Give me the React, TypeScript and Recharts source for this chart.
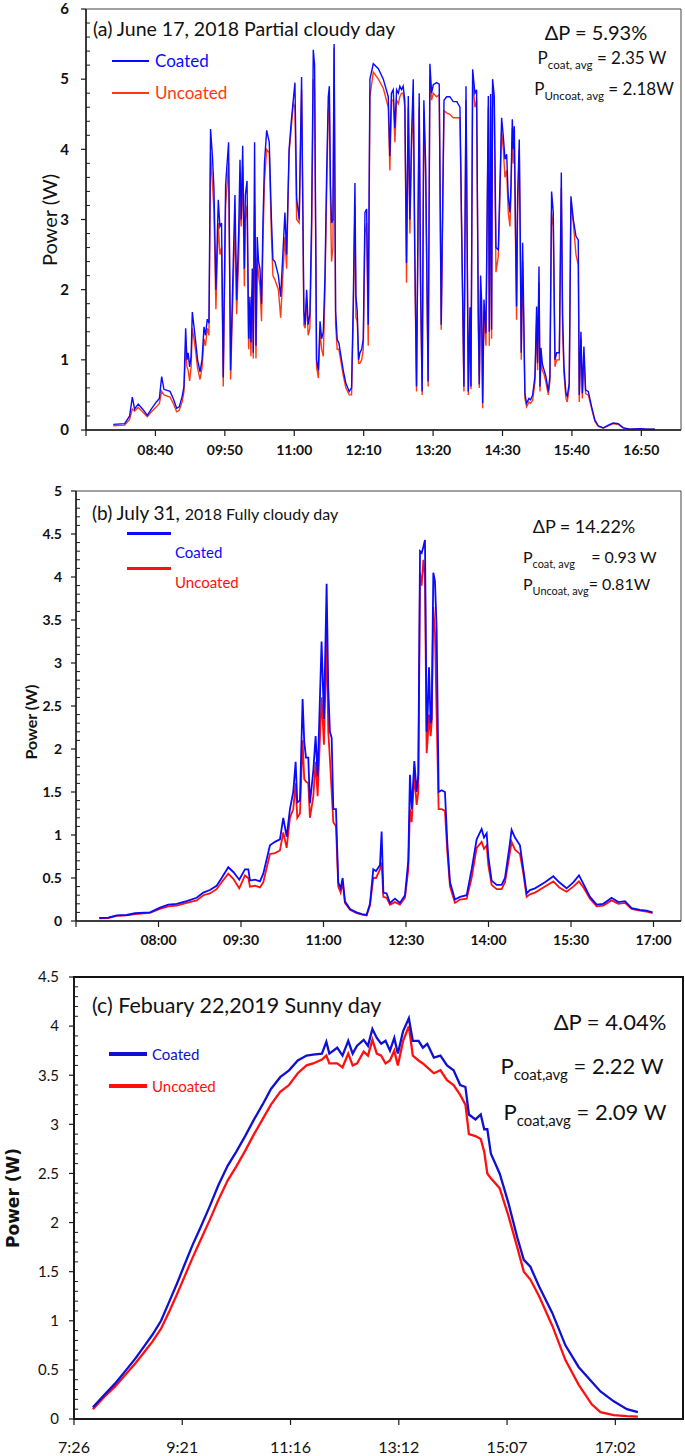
import React from 'react';
import { LineChart, Line, XAxis, YAxis, ReferenceArea } from 'recharts';

const SANS = 'Lato, "Open Sans", "DejaVu Sans", sans-serif';

// ---------- Panel (a) June 17, 2018 ----------
const aTime = [477.5,489,494,496.7,499,502.7,507,511.8,516,521,524,526.3,528.6,534.7,538,541.4,544,547,548.8,550.5,551.8,553,554.5,556,557.2,559.9,562.5,565,567,569,570.5,572.3,574,575.6,577.5,579,581,583.4,585,586.7,588.4,590.8,593.8,595.8,598.5,600.2,601.9,604,605.3,606.5,608,609.7,610.7,612.4,614,615.3,616.3,617.7,618.7,620,621.4,622.7,624,625.4,627,628.5,630,632.2,634.8,637,638.5,640.5,644,646.3,648.5,650.6,652.3,654.8,657,659,660.7,662.4,665,667.4,669.7,671,672.5,674,675.8,677.5,679.2,680.5,682.5,684.3,686,687.6,689.3,691,692.6,694.3,695.4,696.5,697.6,699,700.2,701.7,703.3,705,709.4,712,715.4,717.8,719.5,721.2,722.2,723.5,724.9,726.2,728,729.6,731.3,733,734.6,736.3,739.7,744.8,749.8,754.8,756.4,758,759.8,761.5,763.2,765,766.5,768.2,769.8,771.5,773.2,775,776.6,778.3,780,781.6,783.3,786,787.4,789,790.7,792.5,795,796.8,798.5,800.2,803.5,806.2,808.2,811,813.7,816.9,820.3,824,827.1,831.1,833.2,835.5,837.2,838.2,839.9,842.2,843.9,845.6,846.6,847.9,848.9,850,851.3,853.3,855.7,856.7,858,859,860,861.7,863.4,865.8,869.1,870.8,872.5,874.2,875.8,877.5,878.5,879.9,880.9,881.9,883.2,884.2,885.2,886.9,887.9,888.9,890.3,892.6,894.3,896.7,898.4,900.4,902.7,904.4,905.4,906.8,907.8,908.8,910.1,911.8,913.8,916.2,917.8,919.5,921.2,922.9,924.6,927.3,929.3,930.6,932,934,935.3,937.3,939,941.4,944.1,946.4,947.4,949.1,950.5,952.1,953.8,956.5,959.9,963.2,966.6,971.6,976.7,981.7,986.7,991.8,998.5,1008.6,1015.3,1023.7];
const aCoated = [0.08,0.09,0.2,0.47,0.3,0.37,0.3,0.21,0.3,0.4,0.45,0.76,0.58,0.55,0.45,0.31,0.33,0.48,0.62,1.45,1.0,1.1,0.9,1.05,1.68,1.35,1.0,0.83,1.0,1.47,1.35,1.58,1.52,4.29,3.9,3.45,2.0,3.28,2.9,2.95,0.75,3.5,4.1,0.85,2.4,3.35,1.85,2.85,3.85,3.0,4.05,2.3,3.35,3.55,1.3,1.9,1.25,2.3,1.1,4.1,1.2,2.75,2.4,2.3,1.8,3.0,3.82,4.27,4.1,3.0,2.43,2.4,2.2,1.9,2.5,3.1,2.5,4.0,4.4,4.7,4.95,3.3,3.0,5.03,1.7,1.5,2.0,1.5,1.65,3.0,5.42,5.2,1.0,0.85,1.55,1.3,1.4,2.2,3.6,4.75,4.9,3.5,2.95,3.0,5.5,1.7,1.29,1.24,0.85,0.67,0.55,0.6,1.8,3.52,1.9,1.7,1.0,1.1,1.15,1.3,3.1,3.15,1.5,5.0,5.22,5.15,5.0,4.75,3.9,4.8,4.85,4.3,4.85,4.8,4.9,4.85,4.9,4.7,2.38,4.76,3.0,4.2,5.0,2.5,0.62,4.8,2.1,0.55,4.7,3.8,0.69,5.22,4.8,4.92,4.95,4.93,1.5,4.7,4.75,4.75,4.68,4.68,4.6,0.62,4.9,0.55,1.75,0.62,5.14,4.8,4.85,1.65,0.65,2.2,1.85,0.38,1.86,1.38,4.76,1.4,4.79,1.43,5.0,4.76,2.6,2.57,4.45,4.19,3.86,3.93,3.33,3.1,3.48,4.43,4.0,4.33,2.8,1.76,3.3,4.14,2.8,1.1,2.67,0.52,0.38,0.45,0.43,0.5,0.76,1.76,0.95,2.33,0.62,1.17,0.95,0.86,0.76,0.55,0.76,3.4,3.1,1.0,1.1,1.1,3.67,1.62,0.9,0.52,0.48,0.67,3.33,3.0,2.76,2.71,0.5,1.4,0.52,1.19,0.57,0.55,0.33,0.14,0.06,0.03,0.07,0.1,0.09,0.03,0.01,0.02,0.01,0.01];
const aUncoated = [0.06,0.07,0.15,0.3,0.27,0.32,0.26,0.19,0.26,0.33,0.38,0.55,0.5,0.47,0.38,0.26,0.28,0.4,0.55,1.2,0.9,0.85,0.7,0.9,1.45,1.2,0.88,0.72,0.88,1.3,1.2,1.45,1.35,3.95,3.5,3.15,1.72,2.95,2.5,2.6,0.62,3.2,3.8,0.72,2.1,3.0,1.65,2.45,3.3,2.9,3.75,2.05,3.0,3.2,1.15,1.7,1.05,2.0,1.02,3.2,1.02,2.45,2.2,2.05,1.55,2.7,3.55,4.0,3.95,2.75,2.2,2.14,2.0,1.6,2.2,2.75,2.3,3.95,4.3,4.65,4.6,3.0,2.95,4.85,1.5,1.45,1.9,1.35,1.45,2.7,5.0,4.85,0.9,0.74,1.4,1.15,1.05,2.0,3.35,4.55,4.65,3.3,2.4,2.6,5.45,1.5,1.15,1.15,0.78,0.6,0.5,0.5,1.6,3.2,1.6,1.55,0.95,0.95,1.0,1.15,2.8,2.95,1.2,4.75,5.1,5.0,4.87,4.6,3.7,4.7,4.7,4.1,4.7,4.65,4.75,4.8,4.8,4.6,2.1,4.6,2.8,4.0,4.76,2.3,0.55,4.6,1.9,0.5,4.55,3.6,0.62,5.05,4.7,4.8,4.75,4.78,1.43,4.55,4.52,4.5,4.45,4.45,4.45,0.55,4.7,0.5,1.6,0.58,5.0,4.6,4.7,1.5,0.6,2.0,1.7,0.31,1.7,1.2,4.6,1.2,4.6,1.3,4.9,4.6,2.25,2.48,4.26,4.0,3.6,3.7,3.1,2.9,3.3,4.3,3.8,4.1,2.6,1.57,3.1,4.0,2.6,1.0,2.4,0.45,0.33,0.4,0.38,0.42,0.68,1.55,0.85,2.1,0.55,1.05,0.85,0.8,0.68,0.5,0.7,3.1,2.9,0.9,1.0,1.0,3.45,1.45,0.8,0.45,0.4,0.6,3.25,2.95,2.5,2.35,0.4,1.3,0.45,1.05,0.52,0.5,0.3,0.12,0.05,0.03,0.06,0.09,0.08,0.03,0.01,0.02,0.01,0.01];
const aXTicks = [450,520,590,660,730,800,870,940,1010];
const aXLabels = ['', '08:40', '09:50', '11:00', '12:10', '13:20', '14:30', '15:40', '16:50'];
const aYTicks = [0,1,2,3,4,5,6];
const aYMinor = [0.2,0.4,0.6,0.8,1.2,1.4,1.6,1.8,2.2,2.4,2.6,2.8,3.2,3.4,3.6,3.8,4.2,4.4,4.6,4.8,5.2,5.4,5.6,5.8];

// ---------- Panel (b) July 31, 2018 ----------
const bTime = [415.4,425.2,434.3,445.2,454.3,470.7,481.6,490.7,499.8,510.7,521.6,528.9,536.1,543.4,548.9,556.1,561.6,568.1,574.3,578,579.8,585.2,590.7,594.3,601.6,607,612.5,616.1,619.8,623.4,627,629.6,631.4,634.3,637.2,639,640.9,643.4,645.2,648.9,651.4,653.6,657.9,660.5,663.4,665.2,667,668.9,670.7,673.6,676.1,678.7,680.9,683.4,688.9,696.1,702,707,710.7,714.3,717.3,721.6,723.4,725.3,728.9,732.5,738,743.4,748.9,752.5,754.3,756.2,759.1,761.6,763.4,765.3,767.1,768.9,770.7,772.5,773.6,775.1,776.9,778,779.8,781.6,783.4,785.6,788.9,792.5,795.1,798,803.4,808.9,816.2,821.6,827.1,832.5,835.1,838,839.8,843.4,848.9,854.3,858,862.7,865.2,868.9,874.3,878,881.6,885.2,890.7,901.6,910.7,917.2,925.2,932.5,938.7,944.1,950.7,958,965.2,974.3,981.6,988.9,996.1,1005.2,1012.5,1019];
const bCoated = [0.035,0.04,0.066,0.07,0.09,0.1,0.155,0.19,0.2,0.23,0.27,0.33,0.36,0.41,0.5,0.625,0.57,0.48,0.6,0.6,0.47,0.48,0.46,0.55,0.88,0.92,0.95,1.2,0.98,1.3,1.5,1.85,1.38,1.4,2.58,2.08,1.9,1.9,1.37,1.75,2.15,1.68,3.25,2.35,3.92,2.7,2.2,2.13,1.3,1.3,0.45,0.38,0.5,0.23,0.14,0.1,0.08,0.07,0.2,0.6,0.58,0.65,1.04,0.33,0.32,0.21,0.26,0.21,0.3,0.7,1.7,1.3,1.86,1.5,1.7,4.3,4.28,4.35,4.43,2.2,2.4,2.95,2.3,2.35,4.05,3.95,3.4,1.5,1.52,1.5,0.9,0.45,0.25,0.28,0.3,0.6,0.95,1.07,0.97,1.02,0.75,0.47,0.42,0.42,0.5,0.85,1.06,0.97,0.88,0.6,0.32,0.36,0.38,0.45,0.52,0.45,0.38,0.45,0.53,0.42,0.28,0.19,0.2,0.27,0.22,0.23,0.15,0.13,0.12,0.1];
const bUncoated = [0.03,0.035,0.06,0.065,0.08,0.095,0.14,0.17,0.18,0.21,0.24,0.3,0.32,0.37,0.45,0.55,0.49,0.38,0.53,0.5,0.4,0.41,0.39,0.45,0.78,0.79,0.82,1.03,0.85,1.2,1.3,1.6,1.2,1.25,2.1,1.65,1.62,1.6,1.2,1.45,1.85,1.45,2.6,2.05,3.3,2.2,1.88,1.5,1.15,1.1,0.4,0.33,0.45,0.21,0.13,0.09,0.075,0.065,0.18,0.5,0.5,0.6,0.68,0.28,0.27,0.19,0.22,0.19,0.27,0.6,1.3,1.15,1.7,1.35,1.5,4.05,3.9,4.2,4.0,1.95,2.1,2.4,2.15,2.3,3.65,3.35,2.4,1.3,1.3,1.28,0.8,0.4,0.21,0.25,0.26,0.5,0.85,0.92,0.84,0.88,0.65,0.42,0.37,0.37,0.45,0.75,0.92,0.83,0.78,0.55,0.28,0.31,0.33,0.4,0.46,0.39,0.34,0.4,0.46,0.38,0.26,0.17,0.18,0.24,0.2,0.21,0.14,0.12,0.11,0.09];
const bXTicks = [390,480,570,660,750,840,930,1020];
const bXLabels = ['', '08:00', '09:30', '11:00', '12:30', '14:00', '15:30', '17:00'];
const bYTicks = [0,0.5,1,1.5,2,2.5,3,3.5,4,4.5,5];
const bYMinor = [0.1,0.2,0.3,0.4,0.6,0.7,0.8,0.9,1.1,1.2,1.3,1.4,1.6,1.7,1.8,1.9,2.1,2.2,2.3,2.4,2.6,2.7,2.8,2.9,3.1,3.2,3.3,3.4,3.6,3.7,3.8,3.9,4.1,4.2,4.3,4.4,4.6,4.7,4.8,4.9];

// ---------- Panel (c) February 22, 2019 ----------
const cTime = [466.5,479,490,502,512,521,530,539,548,556,564,572.5,581,591,600,610,619,628.5,638,647,656,665.8,675.2,684.5,693.9,700.9,710.2,714.9,718.1,726.5,732.1,738.2,742.9,747.6,754.6,759.2,763.9,768.6,773.3,777.9,782.6,787.2,791,796.6,802.7,806.9,813,817.6,822.3,829.3,836.3,843.3,850.3,857.3,862.9,866.6,873.6,879.2,882.9,886.2,890,899.3,908.6,918,925,932,941.3,955.3,969.3,983.3,997.3,1006.6,1020.7,1034.7,1046.4];
const cCoated = [0.12,0.25,0.36,0.5,0.62,0.74,0.86,1.0,1.2,1.38,1.57,1.77,1.95,2.17,2.38,2.58,2.72,2.88,3.05,3.2,3.36,3.48,3.55,3.65,3.7,3.71,3.72,3.84,3.72,3.78,3.7,3.85,3.72,3.8,3.86,3.8,3.97,3.88,3.82,3.85,3.75,3.88,3.72,3.95,4.08,3.85,3.85,3.78,3.82,3.68,3.7,3.6,3.55,3.4,3.38,3.1,3.05,3.1,2.95,2.95,2.7,2.5,2.2,1.85,1.62,1.55,1.35,1.08,0.75,0.53,0.38,0.28,0.18,0.1,0.07];
const cUncoated = [0.1,0.23,0.33,0.46,0.57,0.68,0.79,0.92,1.1,1.27,1.45,1.64,1.82,2.03,2.23,2.43,2.57,2.73,2.9,3.05,3.2,3.33,3.4,3.52,3.6,3.62,3.66,3.7,3.62,3.62,3.58,3.72,3.6,3.62,3.74,3.7,3.86,3.72,3.7,3.62,3.65,3.75,3.6,3.85,4.0,3.7,3.65,3.62,3.58,3.52,3.55,3.45,3.4,3.3,3.2,2.9,2.88,2.85,2.72,2.5,2.45,2.35,2.07,1.75,1.5,1.42,1.25,0.95,0.6,0.35,0.15,0.07,0.04,0.03,0.025];
const cXTicks = [446.4,561.6,676.8,792,907.2,1022.4];
const cXLabels = ['7:26', '9:21', '11:16', '13:12', '15:07', '17:02'];
const cYTicks = [0,0.5,1,1.5,2,2.5,3,3.5,4,4.5];
const cYMinor = [0.1,0.2,0.3,0.4,0.6,0.7,0.8,0.9,1.1,1.2,1.3,1.4,1.6,1.7,1.8,1.9,2.1,2.2,2.3,2.4,2.6,2.7,2.8,2.9,3.1,3.2,3.3,3.4,3.6,3.7,3.8,3.9,4.1,4.2,4.3,4.4];

type PanelProps = {
  top: number; height: number; mTop: number; mRight: number;
  yAxisWidth: number; xAxisHeight: number;
  time: number[]; coated: number[]; uncoated: number[];
  xDomain: number[]; xTicks: number[]; xLabels: string[]; xTickMargin: number;
  xFontSize: number; xFontWeight: number;
  yDomain: number[]; yTicks: number[]; yMinor: number[]; yTickMargin: number;
  yFontSize: number; yFontWeight: number;
  axisWidth: number; frameColor: string; frameWidth: number;
  blue: string; red: string; lineWidth: number;
};

function Panel(p: PanelProps) {
  const data = p.time.map((t, i) => ({ t, coated: p.coated[i], uncoated: p.uncoated[i] }));
  const axisColor = '#1a1a1a';
  return (
    <div style={{ position: 'absolute', left: 0, top: p.top }}>
      <LineChart width={685} height={p.height} data={data}
        margin={{ top: p.mTop, right: p.mRight, bottom: 0, left: 0 }}>
        <ReferenceArea x1={p.xDomain[0]} x2={p.xDomain[1]} y1={p.yDomain[0]} y2={p.yDomain[1]}
          fill="none" fillOpacity={0} stroke={p.frameColor} strokeWidth={p.frameWidth} ifOverflow="visible" />
        <XAxis dataKey="t" type="number" domain={p.xDomain} ticks={p.xTicks} interval={0}
          allowDataOverflow height={p.xAxisHeight}
          tickFormatter={(v: number) => { const k = p.xTicks.indexOf(v); return k >= 0 ? p.xLabels[k] : ''; }}
          tickSize={6} tickMargin={p.xTickMargin}
          axisLine={{ stroke: axisColor, strokeWidth: p.axisWidth }}
          tickLine={{ stroke: axisColor, strokeWidth: 1.2 }}
          tick={{ fontFamily: SANS, fontSize: p.xFontSize, fontWeight: p.xFontWeight, fill: '#111' }} />
        <YAxis type="number" domain={p.yDomain} ticks={p.yTicks} interval={0} allowDataOverflow
          width={p.yAxisWidth} tickSize={5} tickMargin={p.yTickMargin}
          axisLine={{ stroke: axisColor, strokeWidth: p.axisWidth }}
          tickLine={{ stroke: axisColor, strokeWidth: 1.2 }}
          tick={{ fontFamily: SANS, fontSize: p.yFontSize, fontWeight: p.yFontWeight, fill: '#111' }} />
        <YAxis yAxisId="minor" type="number" mirror domain={p.yDomain} ticks={p.yMinor} interval={0}
          allowDataOverflow axisLine={false} tickSize={4}
          tickLine={{ stroke: axisColor, strokeWidth: 1 }}
          tick={() => <g />} />
        <Line type="linear" dataKey="uncoated" stroke={p.red} strokeWidth={p.lineWidth} dot={false}
          activeDot={false} isAnimationActive={false} />
        <Line type="linear" dataKey="coated" stroke={p.blue} strokeWidth={p.lineWidth} dot={false}
          activeDot={false} isAnimationActive={false} />
      </LineChart>
    </div>
  );
}

function T(props: { x: number; y: number; size: number; color?: string; weight?: number; anchor?: 'start' | 'middle' | 'end'; children: React.ReactNode }) {
  const { x, y, size, color = '#111', weight = 400, anchor = 'start', children } = props;
  const tx = anchor === 'middle' ? '-50%' : anchor === 'end' ? '-100%' : '0';
  return (
    <div style={{
      position: 'absolute', left: x, top: y - size * 0.6, fontFamily: SANS, fontSize: size,
      lineHeight: `${size * 1.2}px`, color, fontWeight: weight, whiteSpace: 'nowrap',
      transform: `translateX(${tx})`,
    }}>{children}</div>
  );
}

function Sub({ children }: { children: React.ReactNode }) {
  return <span style={{ fontSize: '0.68em', position: 'relative', top: '0.42em', verticalAlign: 'baseline' }}>{children}</span>;
}

function VText(props: { cx: number; cy: number; size: number; weight: number; family?: string; children: React.ReactNode }) {
  return (
    <div style={{
      position: 'absolute', left: props.cx, top: props.cy, fontFamily: props.family || SANS, fontSize: props.size,
      fontWeight: props.weight, color: '#111', whiteSpace: 'nowrap', lineHeight: 1,
      transform: 'translate(-50%, -50%) rotate(-90deg)',
    }}>{props.children}</div>
  );
}

function LegLine(props: { x1: number; x2: number; y: number; h: number; color: string }) {
  return <div style={{ position: 'absolute', left: props.x1, top: props.y - props.h / 2, width: props.x2 - props.x1, height: props.h, background: props.color }} />;
}

export default function App() {
  return (
    <div style={{ position: 'absolute', left: 0, top: 0, width: 685, height: 1456, background: '#fff', overflow: 'hidden' }}>
      {/* Panel a */}
      <Panel top={0} height={470} mTop={9} mRight={4} yAxisWidth={86} xAxisHeight={40}
        time={aTime} coated={aCoated} uncoated={aUncoated}
        xDomain={[450, 1050]} xTicks={aXTicks} xLabels={aXLabels} xTickMargin={9} xFontSize={14} xFontWeight={700}
        yDomain={[0, 6]} yTicks={aYTicks} yMinor={aYMinor} yTickMargin={12} yFontSize={15} yFontWeight={700}
        axisWidth={1.5} frameColor="#444" frameWidth={1}
        blue="#0a0aff" red="#ff3a10" lineWidth={1.4} />
      <VText cx={49} cy={220} size={20} weight={400}>Power (W)</VText>
      <T x={93} y={29} size={19.5}>(a) June 17, 2018 Partial cloudy day</T>
      <LegLine x1={112} x2={149} y={61} h={2.5} color="#0a0aff" />
      <T x={155} y={61} size={17} color="#0a0aff">Coated</T>
      <LegLine x1={112} x2={149} y={93} h={2.5} color="#ff3a10" />
      <T x={155} y={93} size={17} color="#ff3a10">Uncoated</T>
      <T x={596} y={32} size={20} anchor="middle">ΔP = 5.93%</T>
      <T x={602} y={58} size={17} anchor="middle">P<Sub>coat, avg</Sub> = 2.35 W</T>
      <T x={604} y={89} size={17} anchor="middle">P<Sub>Uncoat, avg</Sub> = 2.18W</T>

      {/* Panel b */}
      <Panel top={470} height={490} mTop={21} mRight={4} yAxisWidth={76} xAxisHeight={39}
        time={bTime} coated={bCoated} uncoated={bUncoated}
        xDomain={[390, 1050]} xTicks={bXTicks} xLabels={bXLabels} xTickMargin={8} xFontSize={14} xFontWeight={700}
        yDomain={[0, 5]} yTicks={bYTicks} yMinor={bYMinor} yTickMargin={9} yFontSize={14} yFontWeight={700}
        axisWidth={1.5} frameColor="#444" frameWidth={1}
        blue="#0a0aff" red="#ff1010" lineWidth={1.8} />
      <VText cx={31} cy={722} size={16} weight={700}>Power (W)</VText>
      <T x={92} y={513} size={19}>(b) July 31, <span style={{ fontSize: 16 }}>2018 Fully cloudy day</span></T>
      <LegLine x1={127} x2={171} y={533} h={3} color="#0a0aff" />
      <T x={175} y={552} size={15} color="#0a0aff">Coated</T>
      <LegLine x1={127} x2={171} y={568} h={3} color="#ff1010" />
      <T x={175} y={582} size={15} color="#ff1010">Uncoated</T>
      <T x={584} y={527} size={18} anchor="middle">ΔP = 14.22%</T>
      <T x={523} y={557} size={16}>P<Sub>coat, avg</Sub>{'\u00a0\u00a0\u00a0\u00a0'}= 0.93 W</T>
      <T x={523} y={584} size={16}>P<Sub>Uncoat, avg</Sub>= 0.81W</T>

      {/* Panel c */}
      <Panel top={960} height={496} mTop={17} mRight={2} yAxisWidth={74} xAxisHeight={37}
        time={cTime} coated={cCoated} uncoated={cUncoated}
        xDomain={[446.4, 1094.4]} xTicks={cXTicks} xLabels={cXLabels} xTickMargin={17} xFontSize={16} xFontWeight={400}
        yDomain={[0, 4.5]} yTicks={cYTicks} yMinor={cYMinor} yTickMargin={10} yFontSize={15} yFontWeight={400}
        axisWidth={2} frameColor="#111" frameWidth={2}
        blue="#1010d0" red="#ff1010" lineWidth={2.3} />
      <VText cx={13} cy={1198} size={17} weight={700} family='"DejaVu Sans", sans-serif'>Power (W)</VText>
      <T x={92} y={1006} size={21.5}>(c) Febuary 22,2019 Sunny day</T>
      <LegLine x1={109} x2={147} y={1054} h={3.5} color="#1010d0" />
      <T x={152} y={1054} size={15} color="#1010d0">Coated</T>
      <LegLine x1={109} x2={147} y={1086} h={3.5} color="#ff1010" />
      <T x={152} y={1086} size={15} color="#ff1010">Uncoated</T>
      <T x={610} y={1022} size={22} anchor="middle">ΔP = 4.04%</T>
      <T x={582} y={1066} size={22} anchor="middle">P<Sub>coat,avg</Sub> = 2.22 W</T>
      <T x={585} y={1112} size={22} anchor="middle">P<Sub>coat,avg</Sub> = 2.09 W</T>
    </div>
  );
}
